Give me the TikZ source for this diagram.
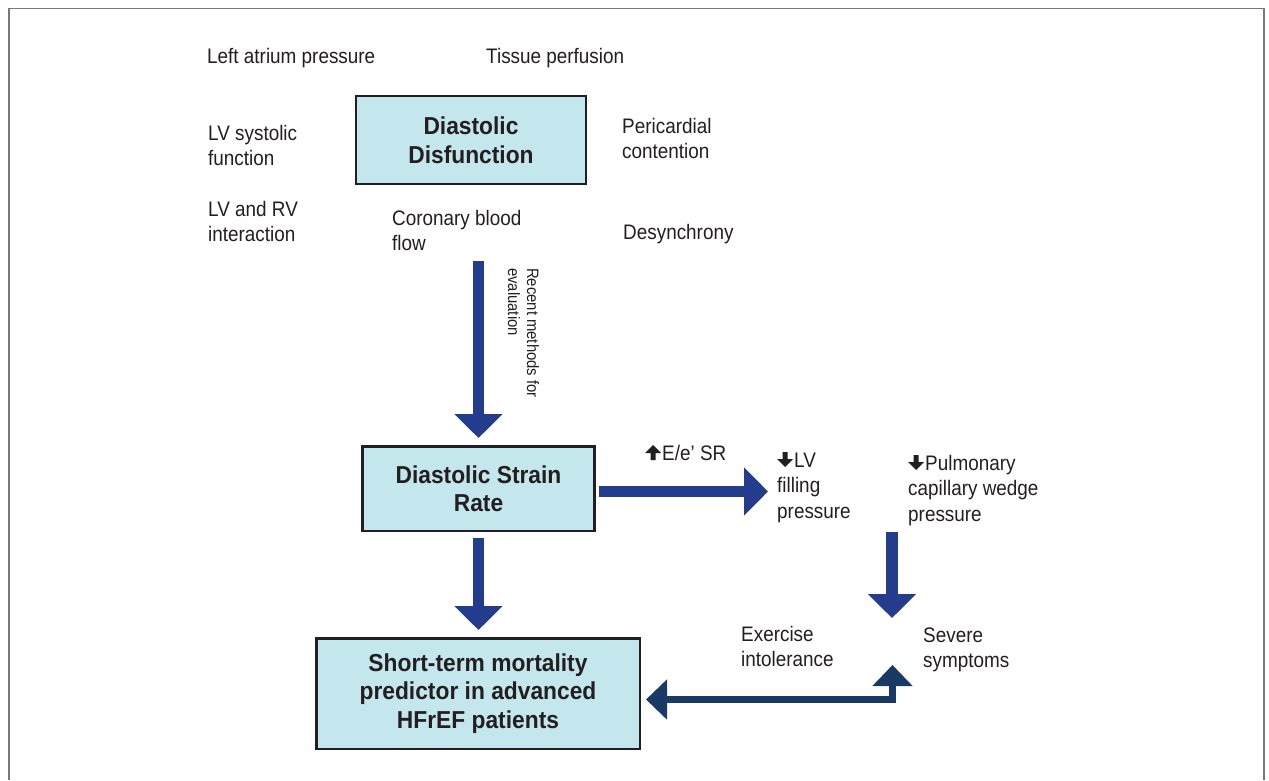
\documentclass[tikz,border=0pt]{standalone}
\usepackage{fontspec}
\setmainfont{Liberation Sans}[FakeStretch=0.9]
\newfontfamily\bfnt{Liberation Sans}[FakeStretch=0.93]
\usetikzlibrary{arrows.meta,calc}
\definecolor{txt}{HTML}{231F20}
\definecolor{boxfill}{RGB}{196,230,237}
\definecolor{arrblue}{RGB}{35,61,140}
\definecolor{arrnavy}{RGB}{26,58,102}
\definecolor{framegray}{RGB}{120,120,120}
\newcommand\upglyph{\tikz[baseline=0pt]\fill[txt] (-2.5pt,0pt) -- (2.5pt,0pt) -- (2.5pt,7pt) -- (8pt,7pt) -- (0pt,15pt) -- (-8pt,7pt) -- (-2.5pt,7pt) -- cycle;}
\newcommand\downglyph{\tikz[baseline=0pt]\fill[txt] (-2.5pt,15pt) -- (2.5pt,15pt) -- (2.5pt,8pt) -- (8pt,8pt) -- (0pt,0pt) -- (-8pt,8pt) -- (-2.5pt,8pt) -- cycle;}
\begin{document}
\begin{tikzpicture}[x=1pt,y=-1pt,
  font=\fontsize{21}{25.5}\selectfont, text=txt,
  lbl/.style={anchor=base west, align=left, inner sep=0pt},
  box/.style={draw=txt, line width=2.5pt, fill=boxfill, align=center,
    font=\bfnt\bfseries\fontsize{24.5}{28.5}\selectfont, inner sep=0pt},
  bigarrow/.style={draw=arrblue, line width=11.5pt, -{Triangle[width=47pt,length=24pt]}},
  navyarrow/.style={draw=arrnavy, line width=7.5pt, line join=miter,
    {Triangle[width=39pt,length=21pt]}-{Triangle[width=39pt,length=21pt]}}]
\useasboundingbox (0,0) rectangle (1269,780);
\fill[white] (0,0) rectangle (1269,780);
\draw[framegray, line width=1.5pt] (9,780) -- (9,8.5) -- (1264,8.5) -- (1264,780);

% boxes
\node[box, minimum width=230pt, minimum height=88pt] (dd) at (471,140) {Diastolic\\Disfunction};
\node[box, minimum width=232pt, minimum height=84.5pt] (sr) at (478.5,488.5) {Diastolic Strain\\Rate};
\node[box, minimum width=323.5pt, minimum height=110.5pt] (mort) at (478,693.5) {Short-term mortality\\predictor in advanced\\HFrEF patients};

% labels (base anchor = baseline of the last line)
\node[lbl] (lap) at (207,63) {Left atrium pressure};
\node[lbl] (tp) at (486,63) {Tissue perfusion};
\node[lbl] (lvs) at (208,165.5) {LV systolic\\function};
\node[lbl] (pc) at (622,158.5) {Pericardial\\contention};
\node[lbl] (lvrv) at (208,241.5) {LV and RV\\interaction};
\node[lbl] (cbf) at (392,250.5) {Coronary blood\\flow};
\node[lbl] (des) at (623,239) {Desynchrony};
\node[lbl, rotate=-90, font=\fontsize{16.5}{19}\selectfont] (rme) at (508,268) {Recent methods for\\evaluation};
\node[lbl] (ee) at (645,460) {\upglyph\kern1pt E/e’ SR};
\node[lbl] (lvf) at (777,518) {\downglyph\kern1pt LV\\filling\\pressure};
\node[lbl] (pcw) at (908,521) {\downglyph\kern1pt Pulmonary\\capillary wedge\\pressure};
\node[lbl] (sev) at (923,667.5) {Severe\\symptoms};
\node[lbl] (exi) at (741,666.5) {Exercise\\intolerance};

% arrows
\coordinate (a1s) at (478.5,261);
\draw[bigarrow, shorten >=7pt] (a1s) -- (a1s |- sr.north);
\draw[bigarrow, shorten <=6pt, shorten >=7pt] (sr.south) -- (sr.south |- mort.north);
\coordinate (a3e) at (768,491.5);
\draw[bigarrow, shorten <=3pt] (sr.east |- a3e) -- (a3e);
\coordinate (a4s) at (892,532);
\coordinate (a4e) at (892,618);
\draw[bigarrow] (a4s) -- (a4e);
\coordinate (a5) at (892.5,665);
\draw[navyarrow] ($(mort.east)+(5,6)$) -| (a5);
\end{tikzpicture}
\end{document}
